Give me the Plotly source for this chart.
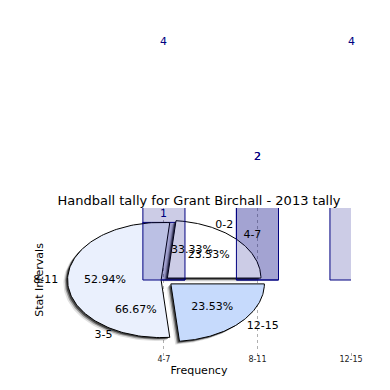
import numpy as np
import plotly.graph_objects as go

# ---------------- data ----------------
categories = ["4-7", "8-11", "12-15"]
bar_a_categories = ["4-7", "8-11"]
bar_a_values = [1, 2]
bar_b_values = [4, 2, 4]

pie1_labels = ["4-7", "8-11", "12-15"]
pie1_values = [4, 9, 4]
pie2_labels = ["0-2", "3-5"]
pie2_values = [1, 2]

title_text = "Handball tally for Grant Birchall - 2013 tally"
x_title = "Frequency"
y_title = "Stat Intervals"

# ---------------- styles ----------------
PIE1_EXPLODE = [0.05, 0.03, 0.1]
PIE1_COLORS = ["#ffffff", "#eaf0fd", "#c6dafc"]
BAR_FILL = "rgba(0,0,128,0.2)"
BAR_EDGE = "#000080"
BAR_WIDTH = 0.45
FONT = "DejaVu Sans"
XR = [-1.25, 2.0]
YR = [-1.25, 1.25]

fig = go.Figure()

cat_pos = {c: i for i, c in enumerate(categories)}


def pie_geometry(values, explode=None, start=0.0):
    total = float(sum(values))
    out = []
    t = start
    for i, v in enumerate(values):
        t1, t2 = t, t + 360.0 * v / total
        mid = np.radians((t1 + t2) / 2)
        e = explode[i] if explode else 0.0
        cx, cy = e * np.cos(mid), e * np.sin(mid)
        out.append(dict(t1=t1, t2=t2, mid=mid, cx=cx, cy=cy, pct=100.0 * v / total))
        t = t2
    return out


def wedge_xy(g, ox=0.0, oy=0.0, r=1.0, n=120):
    th = np.radians(np.linspace(g["t1"], g["t2"], n))
    xs = np.concatenate([[g["cx"]], g["cx"] + r * np.cos(th), [g["cx"]]]) + ox
    ys = np.concatenate([[g["cy"]], g["cy"] + r * np.sin(th), [g["cy"]]]) + oy
    return xs, ys


# ---- layer 1: first bar series (beneath the pie)
fig.add_trace(go.Bar(
    x=[cat_pos[c] for c in bar_a_categories], y=bar_a_values, width=BAR_WIDTH,
    marker=dict(color=BAR_FILL, line=dict(color=BAR_EDGE, width=1)),
    xaxis="x", yaxis="y", showlegend=False, hoverinfo="skip"))

# ---- layer 2: pie (shadow + wedges)
geo1 = pie_geometry(pie1_values, PIE1_EXPLODE)
for g in geo1:
    for off, col in ((-0.045, "rgba(0,0,0,0.12)"), (-0.03, "rgba(0,0,0,0.3)"),
                     (-0.018, "rgba(0,0,0,0.55)")):
        xs, ys = wedge_xy(g, off, off * 1.3)
        fig.add_trace(go.Scatter(x=xs, y=ys, mode="lines", fill="toself",
                                 fillcolor=col, line=dict(width=0),
                                 xaxis="x2", yaxis="y2", showlegend=False,
                                 hoverinfo="skip"))
for g, col in zip(geo1, PIE1_COLORS):
    xs, ys = wedge_xy(g)
    fig.add_trace(go.Scatter(x=xs, y=ys, mode="lines", fill="toself",
                             fillcolor=col, line=dict(color="black", width=1),
                             xaxis="x2", yaxis="y2", showlegend=False,
                             hoverinfo="skip"))

# ---- layer 3: second bar series + pie texts
fig.add_trace(go.Bar(
    x=list(range(len(categories))), y=bar_b_values, width=BAR_WIDTH,
    marker=dict(color=BAR_FILL, line=dict(color=BAR_EDGE, width=1)),
    xaxis="x3", yaxis="y3", showlegend=False, hoverinfo="skip"))

geo2 = pie_geometry(pie2_values)
lab_x, lab_y, lab_t, lab_p = [], [], [], []
pct_x, pct_y, pct_t = [], [], []
for labels, geo in ((pie1_labels, geo1), (pie2_labels, geo2)):
    for lab, g in zip(labels, geo):
        lx = g["cx"] + 1.1 * np.cos(g["mid"])
        ly = g["cy"] + 1.1 * np.sin(g["mid"])
        lab_x.append(lx); lab_y.append(ly); lab_t.append(lab)
        lab_p.append("middle right" if lx > 0 else "middle left")
        pct_x.append(g["cx"] + 0.6 * np.cos(g["mid"]))
        pct_y.append(g["cy"] + 0.6 * np.sin(g["mid"]))
        pct_t.append(f"{g['pct']:.2f}%")

fig.add_trace(go.Scatter(x=lab_x, y=lab_y, text=lab_t, mode="text",
                         textposition=lab_p, marker=dict(size=0),
                         textfont=dict(size=11, color="black", family=FONT),
                         xaxis="x3", yaxis="y3", showlegend=False,
                         cliponaxis=False, hoverinfo="skip"))
fig.add_trace(go.Scatter(x=pct_x, y=pct_y, text=pct_t, mode="text",
                         textposition="middle center",
                         textfont=dict(size=11, color="black", family=FONT),
                         xaxis="x3", yaxis="y3", showlegend=False,
                         cliponaxis=False, hoverinfo="skip"))

# bar value labels (they sit above the plot area, so place them in paper
# coordinates derived from the value through the y scale)
bx = [cat_pos[c] for c in bar_a_categories] + list(range(len(categories)))
by = list(bar_a_values) + list(bar_b_values)
for x, v in zip(bx, by):
    fig.add_annotation(x=x, xref="x", y=(v - YR[0]) / (YR[1] - YR[0]), yref="paper",
                       text=str(v), showarrow=False, yanchor="bottom", yshift=0,
                       font=dict(size=11, color=BAR_EDGE, family=FONT))

hidden = dict(visible=False, fixedrange=True)

# the page adds an 8px body margin, so the figure sits 8px right/down
fig.update_layout(
    width=390, height=390,
    margin=dict(l=39, r=47, t=200, b=46, autoexpand=False),
    paper_bgcolor="white", plot_bgcolor="white",
    font=dict(family=FONT, color="black"),
    barmode="overlay",
    showlegend=False,
    title=dict(text=title_text, font=dict(size=13, color="black", family=FONT),
               x=0.5, xref="paper", xanchor="center",
               y=(390 - 192) / 390, yref="container", yanchor="middle"),
    xaxis=dict(range=XR, tickvals=list(range(len(categories))), ticktext=categories,
               showgrid=True, gridcolor="#b0b0b0", griddash="dot", gridwidth=1,
               zeroline=False, showline=False, ticks="outside", ticklen=3,
               tickcolor="#b0b0b0", tickfont=dict(size=8, color="#222"),
               ticklabelstandoff=-4, automargin=False,
               title=dict(text=x_title, font=dict(size=11), standoff=3)),
    yaxis=dict(range=YR, showgrid=False, zeroline=False, showline=False,
               showticklabels=False, ticks="", automargin=False,
               title=dict(text=y_title, font=dict(size=11), standoff=0)),
    xaxis2=dict(range=XR, overlaying="x", **hidden),
    yaxis2=dict(range=YR, overlaying="y", **hidden),
    xaxis3=dict(range=XR, overlaying="x", **hidden),
    yaxis3=dict(range=YR, overlaying="y", **hidden),
)

fig.write_html("out.html")
